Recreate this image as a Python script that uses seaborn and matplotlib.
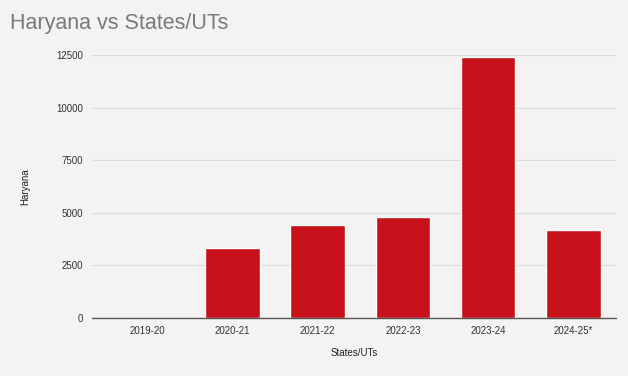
import matplotlib
matplotlib.use("Agg")
import matplotlib.pyplot as plt
import seaborn as sns
import pandas as pd

years = ['2019-20', '2020-21', '2021-22', '2022-23', '2023-24', '2024-25*']
haryana = [0, 3320, 4430, 4780, 12420, 4170]
y_ticks = [0, 2500, 5000, 7500, 10000, 12500]

df = pd.DataFrame({'States/UTs': years, 'Haryana': haryana})

sns.set_style("white")
plt.rcParams['font.family'] = ['Liberation Sans', 'DejaVu Sans']

bg = '#f5f3f2'
fig = plt.figure(figsize=(6.28, 3.76), dpi=100, facecolor=bg)
ax = fig.add_axes([0.146, 0.154, 0.835, 0.7])
ax.set_facecolor(bg)

sns.barplot(data=df, x='States/UTs', y='Haryana', color='#c8111a',
            width=0.64, saturation=1, ax=ax, zorder=3)

ax.set_xlim(-0.65, 5.5)
ax.set_ylim(0, 12500)
ax.set_yticks(y_ticks)
ax.set_yticklabels([str(t) for t in y_ticks])
ax.grid(axis='y', color='#dcdcdc', linewidth=0.8, zorder=0)
ax.axhline(0, color='#555555', linewidth=1.0, zorder=4, clip_on=False)
for s in ax.spines.values():
    s.set_visible(False)
ax.tick_params(axis='both', length=0, labelsize=7, colors='#333333', pad=6)
ax.set_xlabel('States/UTs', fontsize=7, color='#222222', labelpad=8)
ax.set_ylabel('Haryana', fontsize=7, color='#222222', labelpad=19)

fig.text(0.016, 0.922, 'Haryana vs States/UTs', fontsize=15.5, color='#7a7a7a')

fig.savefig('out.png', dpi=100, facecolor=bg)
